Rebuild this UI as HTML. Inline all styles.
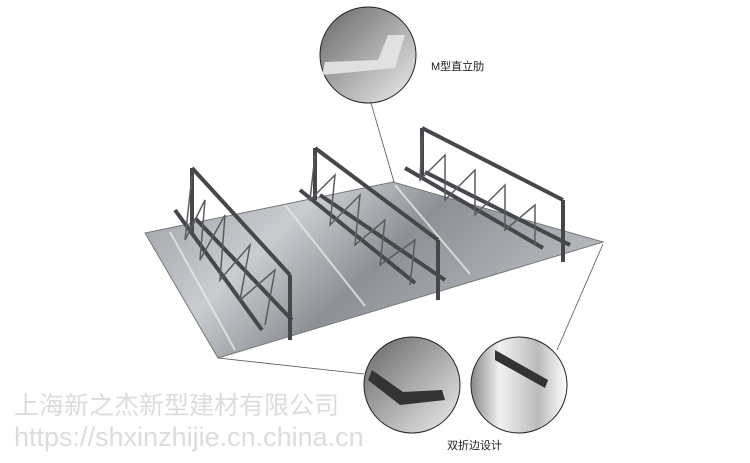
<!DOCTYPE html>
<html><head><meta charset="utf-8"><style>
body{margin:0;background:#fff;width:750px;height:463px;overflow:hidden;position:relative;font-family:"Liberation Sans","Noto Sans CJK SC",sans-serif}
.t{position:absolute;white-space:nowrap}
</style></head><body>
<svg width="750" height="463" style="position:absolute;left:0;top:0">
<defs>
<linearGradient id="dk" x1="0" y1="0" x2="1" y2="0.4">
<stop offset="0" stop-color="#9a9da2"/><stop offset="0.35" stop-color="#c9ccd0"/><stop offset="0.6" stop-color="#8d9096"/><stop offset="1" stop-color="#b8bbc0"/></linearGradient>
<linearGradient id="c1" x1="0" y1="0" x2="1" y2="1"><stop offset="0" stop-color="#666"/><stop offset="0.5" stop-color="#aaa"/><stop offset="1" stop-color="#eee"/></linearGradient>
<linearGradient id="c2" x1="0" y1="0" x2="1" y2="0"><stop offset="0" stop-color="#888"/><stop offset="0.3" stop-color="#f2f2f2"/><stop offset="0.7" stop-color="#bbb"/><stop offset="1" stop-color="#fff"/></linearGradient>
</defs>
<polygon points="145,233 393,182 603,242 218,358" fill="url(#dk)" stroke="#777" stroke-width="1"/>
<g stroke="#e8e8ea" stroke-width="2" opacity="0.8">
<line x1="170" y1="232" x2="235" y2="350"/><line x1="285" y1="205" x2="365" y2="306"/><line x1="395" y1="185" x2="470" y2="274"/>
</g>
<g stroke="#45474b" stroke-width="4" fill="none">
<line x1="192" y1="168" x2="290" y2="275"/><line x1="175" y1="210" x2="262" y2="330"/><line x1="195" y1="218" x2="292" y2="320"/>
<line x1="192" y1="168" x2="192" y2="235"/><line x1="290" y1="275" x2="290" y2="340"/>
<line x1="315" y1="148" x2="438" y2="240"/><line x1="300" y1="190" x2="415" y2="283"/><line x1="320" y1="195" x2="445" y2="280"/>
<line x1="315" y1="148" x2="315" y2="200"/><line x1="438" y1="240" x2="438" y2="300"/>
<line x1="422" y1="128" x2="563" y2="200"/><line x1="405" y1="168" x2="543" y2="248"/><line x1="425" y1="172" x2="570" y2="245"/>
<line x1="422" y1="128" x2="422" y2="180"/><line x1="563" y1="200" x2="563" y2="262"/>
</g>
<g stroke="#5a5c60" stroke-width="1.5" fill="none">
<polyline points="192,175 185,240 205,200 200,260 225,215 220,280 250,245 240,300 275,270 265,325"/>
<polyline points="315,155 310,200 335,175 330,225 360,195 355,245 385,220 380,265 415,240 410,285"/>
<polyline points="422,135 420,180 445,155 445,200 475,170 475,215 505,185 505,230 535,205 535,245"/>
</g>
<g stroke="#555" stroke-width="0.8">
<line x1="371" y1="103" x2="394" y2="182"/><line x1="218" y1="358" x2="364" y2="374"/><line x1="603" y1="244" x2="557" y2="350"/>
</g>
<circle cx="368" cy="55" r="48" fill="url(#c1)" stroke="#222"/>
<path d="M322,75 L395,68 L405,35 L388,35 L378,60 L325,62Z" fill="#e6e6e6" opacity="0.9"/>
<circle cx="412" cy="385" r="48" fill="url(#c1)" stroke="#222"/>
<path d="M368,380 L400,405 L445,400 L442,390 L403,392 L372,370Z" fill="#333"/>
<circle cx="519" cy="385" r="48" fill="url(#c2)" stroke="#222"/>
<path d="M495,350 L548,380 L545,388 L495,360Z" fill="#333"/>
</svg>
<div class="t" style="left:431px;top:58px;font-size:11px;color:#222">M型直立肋</div>
<div class="t" style="left:447px;top:437px;font-size:11px;color:#222">双折边设计</div>
<div class="t" style="left:14px;top:386px;font-size:25px;color:#dcdcdc">上海新之杰新型建材有限公司</div>
<div class="t" style="left:14px;top:422px;font-size:27px;color:#dcdcdc">https://shxinzhijie.cn.china.cn</div>
</body></html>
